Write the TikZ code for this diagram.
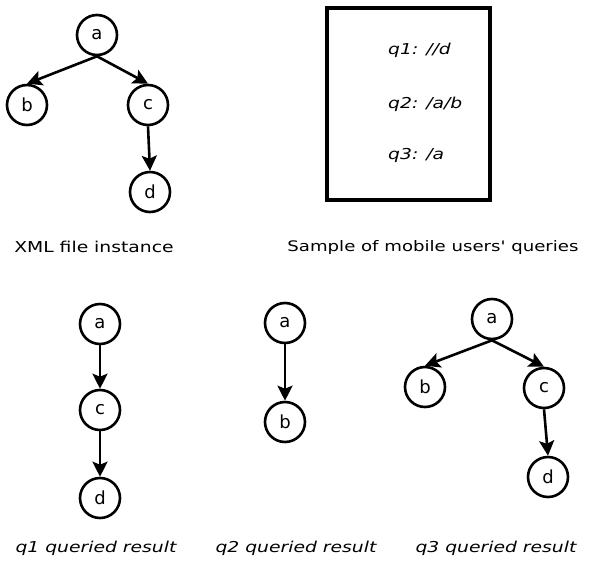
\documentclass[tikz,border=0pt]{standalone}
\usepackage{fontspec}
\setmainfont{DejaVu Sans}
\newfontfamily\widefont[FakeStretch=1.25]{DejaVu Sans}
\usetikzlibrary{arrows.meta}
\begin{document}
\begin{tikzpicture}[x=1pt,y=-1pt,
  vtx/.style={circle,draw,line width=2.6pt,minimum size=40pt,inner sep=0pt,font=\fontsize{18}{18}\selectfont},
  edge/.style={line width=2.6pt,-{Stealth[length=15pt,width=15pt,inset=3pt]}},
  caplabel/.style={font=\widefont\fontsize{15}{17}\selectfont},
  icaplabel/.style={font=\widefont\itshape\fontsize{15}{17}\selectfont},
  qry/.style={font=\widefont\itshape\fontsize{15}{17}\selectfont,anchor=west,inner sep=0pt}]
\useasboundingbox (0,0) rectangle (589,560);
% XML tree
\node[vtx] (a0) at (97,35) {a};
\node[vtx] (b0) at (27,105) {b};
\node[vtx] (c0) at (148,105) {c};
\node[vtx] (d0) at (150,192) {d};
\draw[edge] (a0.south) -- (b0.north);
\draw[edge] (a0.south) -- (c0.north);
\draw[edge] (c0.south) -- (d0.north);
\node[caplabel] (l0) at (94,247) {XML file instance};
% queries box
\node[draw,line width=3.2pt,minimum width=163pt,minimum height=192pt] (box) at (408.5,104) {};
\node[qry] (q1) at (388,50) {q1: //d};
\node[qry] (q2) at (388,104) {q2: /a/b};
\node[qry] (q3) at (388,155) {q3: /a};
\node[caplabel,font=\widefont\fontsize{14.5}{17}\selectfont] (l1) at (433,247) {Sample of mobile users' queries};
% q1 result
\node[vtx] (a1) at (100,324) {a};
\node[vtx] (c1) at (100,410) {c};
\node[vtx] (d1) at (100,498) {d};
\draw[edge] (a1.south) -- (c1.north);
\draw[edge] (c1.south) -- (d1.north);
\node[icaplabel] (r1) at (96,548) {q1 queried result};
% q2 result
\node[vtx] (a2) at (285,323) {a};
\node[vtx] (b2) at (285,422) {b};
\draw[edge] (a2.south) -- (b2.north);
\node[icaplabel] (r2) at (296,548) {q2 queried result};
% q3 result
\node[vtx] (a3) at (492,319) {a};
\node[vtx] (b3) at (425,387) {b};
\node[vtx] (c3) at (544,388) {c};
\node[vtx] (d3) at (548,477) {d};
\draw[edge] (a3.south) -- (b3.north);
\draw[edge] (a3.south) -- (c3.north);
\draw[edge] (c3.south) -- (d3.north);
\node[icaplabel] (r3) at (496,548) {q3 queried result};
\end{tikzpicture}
\end{document}
